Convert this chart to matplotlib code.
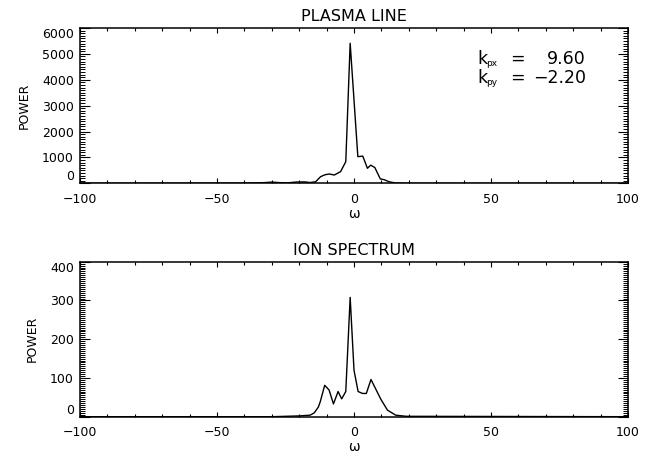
import matplotlib
matplotlib.use("Agg")
import matplotlib.pyplot as plt
from matplotlib.ticker import MultipleLocator

plt.rcParams['font.family'] = ['DejaVu Sans']

# plasma line spectrum (omega, power)
plasma_w = [-100, -60, -40, -33, -30, -27, -24, -21, -18, -16, -14, -12.2, -10.6, -9.0, -7.2,
            -4.9, -3.0, -1.4, 1.4, 3.2, 4.9, 6.1, 7.6, 9.6, 11.0, 12.8, 15.0, 19.5, 100]
plasma_p = [5, 5, 10, 25, 45, 25, 20, 50, 55, 30, 60, 255, 330, 360, 320,
            450, 835, 5410, 1030, 1050, 580, 700, 610, 170, 140, 60, 15, 0, 0]

# ion spectrum (omega, power)
ion_w = [-100, -30, -20, -16, -14.5, -13.0, -12.3, -10.7, -9.1, -7.5, -5.8, -4.5, -3.0,
         -1.4, 0.0, 1.5, 3.1, 4.5, 6.2, 9.8, 12.2, 15.2, 19.0, 100]
ion_p = [0, 0, 2, 4, 10, 25, 39, 81, 69, 33, 65, 46, 65,
         308, 120, 65, 60, 60, 96, 45, 17, 4, 1, 0]

x_ticks = [-100, -50, 0, 50, 100]
kpx, kpy = 9.60, -2.20

fig = plt.figure(figsize=(6.61, 4.58), dpi=100)
ax1 = fig.add_axes([80 / 661, 1 - 183.3 / 458, 548 / 661, 155.3 / 458])
ax2 = fig.add_axes([80 / 661, 1 - 416.7 / 458, 548 / 661, 155 / 458])


def style(ax, title, ymax, ystep, yminor):
    ax.set_xlim(-100, 100)
    ax.set_ylim(0, ymax)
    ax.set_xticks(x_ticks)
    ax.xaxis.set_minor_locator(MultipleLocator(10))
    ax.set_yticks(range(0, ymax + 1, ystep))
    ax.yaxis.set_minor_locator(MultipleLocator(yminor))
    ax.tick_params(axis='x', which='both', direction='in', top=True, bottom=True,
                   labelsize=9, pad=7)
    ax.tick_params(axis='x', which='major', length=3.8, width=0.8)
    ax.tick_params(axis='x', which='minor', length=2.3, width=0.8)
    ax.tick_params(axis='y', which='both', direction='in', left=True, right=True,
                   labelsize=9, pad=4.3)
    ax.tick_params(axis='y', which='major', length=7.5, width=0.8)
    ax.tick_params(axis='y', which='minor', length=3.8, width=0.7)
    for s in ax.spines.values():
        s.set_linewidth(1.1)
    ax.set_title(title, fontsize=11.5, pad=5)
    ax.set_ylabel('POWER', fontsize=9, labelpad=8)
    ax.set_xlabel('ω', fontsize=10, labelpad=0.5)
    labels = ax.get_yticklabels()
    labels[0].set_va('bottom')
    labels[-1].set_va('top')


ax1.plot(plasma_w, plasma_p, color='black', lw=1.0)
style(ax1, 'PLASMA LINE', 6000, 1000, 100)

ax2.plot(ion_w, ion_p, color='black', lw=1.0)
style(ax2, 'ION SPECTRUM', 400, 100, 5)

# wave-vector annotation: k with small subscripts
for yc, sub, val, xv in [(0.80, 'px', kpx, 0.852), (0.68, 'py', kpy, 0.827)]:
    ax1.text(0.7245, yc, 'k', transform=ax1.transAxes, fontsize=12.5,
             va='center', ha='left')
    ax1.text(0.7415, yc - 0.028, sub, transform=ax1.transAxes, fontsize=6.5,
             va='center', ha='left')
    ax1.text(0.785, yc, '=', transform=ax1.transAxes, fontsize=12.5, va='center')
    ax1.text(xv, yc, f'{val:.2f}'.replace('-', '\u2212'), transform=ax1.transAxes,
             fontsize=12.5, va='center')

fig.savefig('out.png', dpi=100, facecolor='white')
